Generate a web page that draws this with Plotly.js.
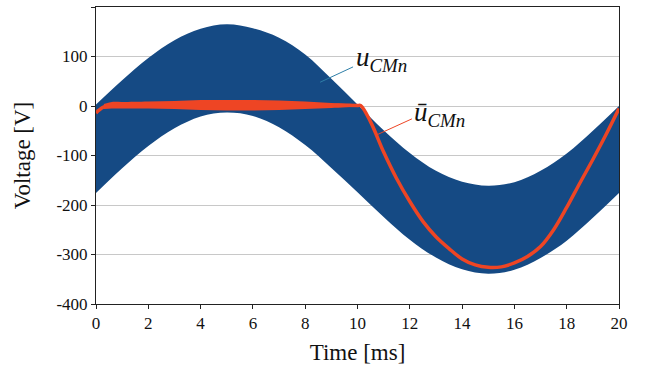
<!DOCTYPE html>
<html>
<head>
<meta charset="utf-8">
<script src="https://cdn.plot.ly/plotly-3.0.1.min.js"></script>
<style>html,body{margin:0;padding:0;background:#fff;}#chart{width:654px;height:371px;}</style>
</head>
<body>
<div id="chart"></div>
<script>
// Time axis samples [ms]
const envTime = [0,1,2,3,4,5,6,7,8,9,10,11,12,13,14,15,16,17,18,19,20];
// u_CMn band envelopes [V]
const uUpper = [3,52,97,133,156,165,157,138,104,55,3,-49,-95,-131,-153,-161,-154,-131,-96,-50,0];
const uLower = [-176,-126,-81,-45,-21,-13,-20,-43,-79,-125,-174,-224,-270,-306,-330,-339,-331,-307,-272,-226,-176];

// averaged u_CMn (ripple band during first half)
const bandTime = [0.3,0.6,1,2,3,4,5,6,7,8,9,10,10.12];
const avgHi = [4,8,8,9,10,12,12,12,11,9,6,3,1];
const avgLo = [-6,-5,-5,-5,-6,-8,-9,-9,-8,-6,-4,-1,0];

const avgTime = [0,0.1,0.3,0.6,1,2,3,4,5,6,7,8,9,10,10.12,10.5,11,11.5,12,12.5,13,13.5,14,14.5,15,15.5,16,16.5,17,17.5,18,18.5,19,19.5,20];
const avgVal  = [-14,-9,-2,1,2,2,2,2,2,2,2,2,1.5,1,1,-32,-93,-147,-193,-233,-264,-288,-309,-321,-326,-325,-317,-304,-284,-250,-205,-156,-108,-58,-5];

const xTicks = [0,2,4,6,8,10,12,14,16,18,20];
const yTicks = [-400,-300,-200,-100,0,100,200];
const yTickText = ["-400","-300","-200","-100","0","100","200"];

const BLUE = "#154a84";
const RED = "#ee4524";
const FONT = "'Liberation Serif', serif";

const traces = [
  {x: envTime, y: uUpper, mode: "lines", line: {width: 0, color: BLUE, shape: "spline"}, hoverinfo: "skip", showlegend: false},
  {x: envTime, y: uLower, mode: "lines", line: {width: 0, color: BLUE, shape: "spline"}, fill: "tonexty", fillcolor: BLUE, hoverinfo: "skip", showlegend: false},
  {x: bandTime, y: avgHi, mode: "lines", line: {width: 0, color: RED, shape: "spline"}, hoverinfo: "skip", showlegend: false},
  {x: bandTime, y: avgLo, mode: "lines", line: {width: 0, color: RED, shape: "spline"}, fill: "tonexty", fillcolor: RED, hoverinfo: "skip", showlegend: false},
  {x: avgTime, y: avgVal, mode: "lines", line: {width: 3.5, color: RED, shape: "spline", smoothing: 1}, hoverinfo: "skip", showlegend: false}
];

const layout = {
  width: 654, height: 371,
  margin: {l: 96, r: 35, t: 7, b: 67},
  paper_bgcolor: "#fff", plot_bgcolor: "#fff",
  font: {family: FONT, color: "#111", size: 16},
  showlegend: false,
  xaxis: {
    range: [0, 20], tickvals: xTicks, ticks: "outside", ticklen: 4, tickcolor: "#222",
    showline: true, mirror: true, linecolor: "#222", linewidth: 1,
    showgrid: false, zeroline: false,
    tickfont: {family: FONT, size: 17, color: "#111"},
    title: {text: "Time [ms]", font: {family: FONT, size: 23, color: "#111"}, standoff: 11}
  },
  yaxis: {
    range: [-400, 200], tickvals: yTicks, ticktext: yTickText, ticks: "outside", ticklen: 4, tickcolor: "#222",
    showline: true, mirror: true, linecolor: "#222", linewidth: 1,
    showgrid: true, gridcolor: "#c8c8c8", gridwidth: 1, zeroline: false,
    tickfont: {family: FONT, size: 17, color: "#111"},
    title: {text: "Voltage [V]", font: {family: FONT, size: 23, color: "#111"}, standoff: 19}
  },
  shapes: [
    {type: "line", xref: "x", yref: "y", x0: 8.57, y0: 48, x1: 9.83, y1: 79, line: {color: "#2f7fa8", width: 1}},
    {type: "line", xref: "x", yref: "y", x0: 10.75, y0: -58, x1: 12.08, y1: -26, line: {color: RED, width: 1}}
  ],
  annotations: [
    {x: 9.85, y: 95, xref: "x", yref: "y", xanchor: "left", yanchor: "middle", showarrow: false,
     text: "<i>u</i><sub><i>CMn</i></sub>", font: {family: FONT, size: 27, color: "#111"}},
    {x: 12.1, y: -16, xref: "x", yref: "y", xanchor: "left", yanchor: "middle", showarrow: false,
     text: "<i>ū</i><sub><i>CMn</i></sub>", font: {family: FONT, size: 27, color: "#111"}}
  ]
};

Plotly.newPlot("chart", traces, layout, {displayModeBar: false, staticPlot: true});
</script>
</body>
</html>
